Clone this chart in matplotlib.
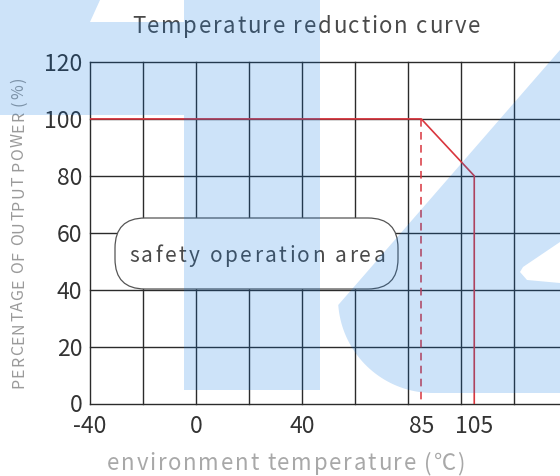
import numpy as np
import matplotlib
matplotlib.use("Agg")
import matplotlib.pyplot as plt
from matplotlib.patches import Polygon, FancyBboxPatch
from matplotlib.font_manager import FontProperties, findfont, get_font

# derating curve
temp = [-40, 85, 105, 105]
power = [100, 100, 80, 0]
derate_start = 85

x_ticks = [-40, 0, 40, 85, 105]
x_ticklabels = ['-40', '0', '40', '85', '105']
y_ticks = [0, 20, 40, 60, 80, 100, 120]
grid_x = [-40, -20, 0, 20, 40, 60, 80, 100, 120]

title = 'Temperature reduction curve'
xlabel = 'environment temperature (℃)'
ylabel = 'PERCENTAGE OF OUTPUT POWER (%)'
area_label = 'safety operation area'

FONT = 'Noto Sans CJK SC'
plt.rcParams['font.family'] = [FONT, 'DejaVu Sans']

W, H, DPI = 560, 476, 100
RED = '#d9363e'
GRID = '#2b2b2b'

fig = plt.figure(figsize=(W / DPI, H / DPI), dpi=DPI)
fig.patch.set_facecolor('white')

# main axes, right side runs off the picture
ax = fig.add_axes([90 / W, (H - 403.5) / H, 470 / W, (403.5 - 62) / H])
ax.set_xlim(-40, -40 + 470 * 20 / 53.0)
ax.set_ylim(0, 120)
for s in ax.spines.values():
    s.set_visible(False)
for gx in grid_x:
    ax.axvline(gx, color=GRID, lw=1.0, clip_on=False, zorder=1)
for gy in y_ticks:
    ax.axhline(gy, color=GRID, lw=1.0, clip_on=False, zorder=1)

ax.plot(temp, power, color=RED, lw=1.2, zorder=3)
ax.plot([derate_start, derate_start], [100, 0], color=RED, lw=1.1,
        dashes=(5, 3.5), zorder=3)

ax.set_xticks(x_ticks)
ax.set_xticklabels(x_ticklabels)
ax.set_yticks(y_ticks)
ax.tick_params(length=0, labelsize=16.5, labelcolor='#333333')
ax.tick_params(axis='x', pad=8)
ax.tick_params(axis='y', pad=5.5)

# pixel axes for texts and the rounded box
pix = fig.add_axes([0, 0, 1, 1], zorder=5)
pix.set_xlim(0, W)
pix.set_ylim(H, 0)
pix.axis('off')


def spaced_text(x, y, s, size, color, width, rotation=0):
    # draws s with letter spacing so it spans `width` pixels, centred on x (or y)
    font = get_font(findfont(FontProperties(family=FONT)), hinting_factor=1)
    font.set_size(size, DPI)
    adv = [font.load_char(ord(ch)).linearHoriAdvance / 65536 for ch in s]
    track = (width - sum(adv)) / (len(s) - 1)
    pos = -width / 2
    for ch, a in zip(s, adv):
        c = pos + a / 2
        if rotation == 0:
            pix.text(x + c, y, ch, fontsize=size, color=color, ha='center',
                     va='baseline', rotation_mode='anchor')
        else:
            pix.text(x, y - c, ch, fontsize=size, color=color, ha='center',
                     va='baseline', rotation=90, rotation_mode='anchor')
        pos += a + track


box = FancyBboxPatch((115, 218), 283, 71, boxstyle='round,pad=0,rounding_size=30',
                     fc='white', ec='#555555', lw=0.9)
pix.add_patch(box)

spaced_text(306, 33, title, 16, '#4a4a4a', 348)
spaced_text(257, 262, area_label, 15, '#4a4a4a', 256)
spaced_text(286, 470, xlabel, 16, '#a8a8a8', 358)
spaced_text(23, 233, ylabel, 11.5, '#9a9a9a', 310, rotation=90)

# light blue watermark over everything
wm = fig.add_axes([0, 0, 1, 1], zorder=10)
wm.set_xlim(0, W)
wm.set_ylim(H, 0)
wm.axis('off')
wm_color = (5 / 255, 115 / 255, 225 / 255)

left_shape = [(0, 0), (100, 0), (90, 22), (184, 22), (184, 0), (320, 0),
              (320, 390), (184, 390), (184, 115), (0, 115)]
wm.add_patch(Polygon(left_shape, closed=True, fc=wm_color, ec='none', alpha=0.2))

th = np.radians(np.linspace(175.8, 90, 40))
arc = list(zip(433 + 95 * np.cos(th), 298 + 95 * np.sin(th)))
right_shape = [(560, 50)] + arc + [(560, 393), (560, 283), (527, 280),
                                   (520, 272), (523, 267), (560, 242)]
wm.add_patch(Polygon(right_shape, closed=True, fc=wm_color, ec='none', alpha=0.2))

fig.savefig('out.png', dpi=DPI)
